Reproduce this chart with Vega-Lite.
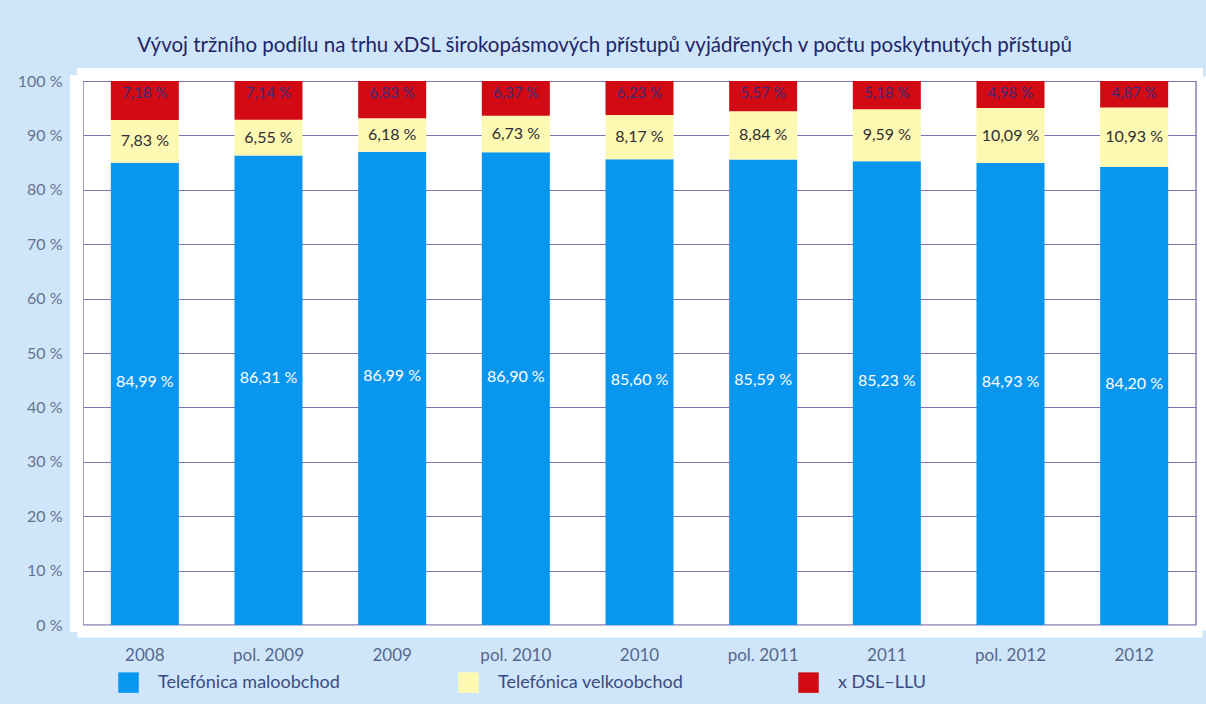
{
  "$schema": "https://vega.github.io/schema/vega-lite/v6.json",
  "width": 1113,
  "height": 544,
  "autosize": {"type": "none"},
  "padding": {"left": 83, "top": 81, "right": 10, "bottom": 79},
  "background": "#cfe6fa",
  "title": {
    "text": "Vývoj tržního podílu na trhu xDSL širokopásmových přístupů vyjádřených v počtu poskytnutých přístupů",
    "font": "Lato",
    "fontSize": 20.5,
    "fontWeight": "normal",
    "color": "#1f2466",
    "anchor": "middle",
    "dx": -35,
    "offset": 17
  },
  "config": {
    "font": "Lato",
    "view": {"fill": "white", "stroke": "#8e82b8", "strokeWidth": 1.5}
  },
  "data": {
    "values": [
      {"period": "2008", "series": "Telefónica maloobchod", "value": 84.99},
      {"period": "2008", "series": "Telefónica velkoobchod", "value": 7.83},
      {"period": "2008", "series": "x DSL–LLU", "value": 7.18},
      {"period": "pol. 2009", "series": "Telefónica maloobchod", "value": 86.31},
      {"period": "pol. 2009", "series": "Telefónica velkoobchod", "value": 6.55},
      {"period": "pol. 2009", "series": "x DSL–LLU", "value": 7.14},
      {"period": "2009", "series": "Telefónica maloobchod", "value": 86.99},
      {"period": "2009", "series": "Telefónica velkoobchod", "value": 6.18},
      {"period": "2009", "series": "x DSL–LLU", "value": 6.83},
      {"period": "pol. 2010", "series": "Telefónica maloobchod", "value": 86.90},
      {"period": "pol. 2010", "series": "Telefónica velkoobchod", "value": 6.73},
      {"period": "pol. 2010", "series": "x DSL–LLU", "value": 6.37},
      {"period": "2010", "series": "Telefónica maloobchod", "value": 85.60},
      {"period": "2010", "series": "Telefónica velkoobchod", "value": 8.17},
      {"period": "2010", "series": "x DSL–LLU", "value": 6.23},
      {"period": "pol. 2011", "series": "Telefónica maloobchod", "value": 85.59},
      {"period": "pol. 2011", "series": "Telefónica velkoobchod", "value": 8.84},
      {"period": "pol. 2011", "series": "x DSL–LLU", "value": 5.57},
      {"period": "2011", "series": "Telefónica maloobchod", "value": 85.23},
      {"period": "2011", "series": "Telefónica velkoobchod", "value": 9.59},
      {"period": "2011", "series": "x DSL–LLU", "value": 5.18},
      {"period": "pol. 2012", "series": "Telefónica maloobchod", "value": 84.93},
      {"period": "pol. 2012", "series": "Telefónica velkoobchod", "value": 10.09},
      {"period": "pol. 2012", "series": "x DSL–LLU", "value": 4.98},
      {"period": "2012", "series": "Telefónica maloobchod", "value": 84.20},
      {"period": "2012", "series": "Telefónica velkoobchod", "value": 10.93},
      {"period": "2012", "series": "x DSL–LLU", "value": 4.87}
    ]
  },
  "transform": [
    {"stack": "value", "groupby": ["period"], "sort": [{"field": "series", "order": "ascending"}], "as": ["y0", "y1"]},
    {"calculate": "(datum.y0 + datum.y1) / 2", "as": "mid"},
    {"calculate": "replace(format(datum.value, '.2f'), '.', ',') + ' %'", "as": "label"}
  ],
  "layer": [
    {
      "mark": {"type": "bar"},
      "encoding": {
        "x": {
          "field": "period", "type": "nominal",
          "sort": ["2008", "pol. 2009", "2009", "pol. 2010", "2010", "pol. 2011", "2011", "pol. 2012", "2012"],
          "scale": {"paddingInner": 0.45, "paddingOuter": 0.225},
          "axis": {
            "orient": "bottom", "title": null, "labelAngle": 0, "ticks": false,
            "domain": true, "domainColor": "white", "domainWidth": 12, "domainCap": "square", "offset": 6,
            "labelPadding": 16, "labelFont": "Lato", "labelFontSize": 17, "labelColor": "#56678c"
          }
        },
        "y": {
          "field": "y1", "type": "quantitative",
          "scale": {"domain": [0, 100], "nice": false},
          "axis": {
            "orient": "left", "title": null, "ticks": false, "values": [0, 10, 20, 30, 40, 50, 60, 70, 80, 90, 100],
            "labelExpr": "datum.value + ' %'",
            "domain": true, "domainColor": "white", "domainWidth": 13, "domainCap": "square", "offset": 7,
            "labelPadding": 14, "labelFont": "Lato", "labelFontSize": 16, "labelColor": "#66738f",
            "grid": true, "gridColor": "#8074b0", "gridWidth": 1.2
          }
        },
        "y2": {"field": "y0"},
        "color": {
          "field": "series", "type": "nominal",
          "scale": {
            "domain": ["Telefónica maloobchod", "Telefónica velkoobchod", "x DSL–LLU"],
            "range": ["#0996ef", "#fdf8b2", "#d20a14"]
          },
          "legend": {
            "title": null, "orient": "none", "legendX": 35, "legendY": 591,
            "direction": "horizontal", "symbolType": "square", "symbolSize": 420, "symbolStrokeWidth": 0,
            "labelFont": "Lato", "labelFontSize": 18, "labelColor": "#3b4a7e", "labelOffset": 19, "labelLimit": 400,
            "gridAlign": "all", "columnPadding": 114
          }
        }
      }
    },
    {
      "transform": [{"filter": "datum.series === 'x DSL–LLU'"}],
      "mark": {"type": "text", "dy": 12, "baseline": "middle", "fontSize": 15, "color": "#3a2a7c", "font": "Lato"},
      "encoding": {
        "x": {
          "field": "period", "type": "nominal",
          "sort": ["2008", "pol. 2009", "2009", "pol. 2010", "2010", "pol. 2011", "2011", "pol. 2012", "2012"],
          "axis": {
            "orient": "top", "title": null, "labels": false, "ticks": false,
            "domain": true, "domainColor": "white", "domainWidth": 13, "domainCap": "square", "offset": 7
          }
        },
        "y": {
          "field": "y1", "type": "quantitative",
          "axis": {
            "orient": "right", "title": null, "labels": false, "ticks": false, "grid": false,
            "domain": true, "domainColor": "white", "domainWidth": 10, "domainCap": "square", "offset": 5.5
          }
        },
        "text": {"field": "label"}
      }
    },
    {
      "transform": [{"filter": "datum.series === 'Telefónica velkoobchod'"}],
      "mark": {"type": "text", "baseline": "middle", "fontSize": 16, "color": "#2e2e36", "font": "Lato"},
      "encoding": {
        "x": {"field": "period", "type": "nominal", "sort": ["2008", "pol. 2009", "2009", "pol. 2010", "2010", "pol. 2011", "2011", "pol. 2012", "2012"], "axis": null},
        "y": {"field": "mid", "type": "quantitative", "axis": null},
        "text": {"field": "label"}
      }
    },
    {
      "transform": [{"filter": "datum.series === 'Telefónica maloobchod'"}],
      "mark": {"type": "text", "dy": -12, "baseline": "middle", "fontSize": 16, "color": "white", "font": "Lato"},
      "encoding": {
        "x": {"field": "period", "type": "nominal", "sort": ["2008", "pol. 2009", "2009", "pol. 2010", "2010", "pol. 2011", "2011", "pol. 2012", "2012"], "axis": null},
        "y": {"field": "mid", "type": "quantitative", "axis": null},
        "text": {"field": "label"}
      }
    }
  ],
  "resolve": {"axis": {"x": "independent", "y": "independent"}}
}
